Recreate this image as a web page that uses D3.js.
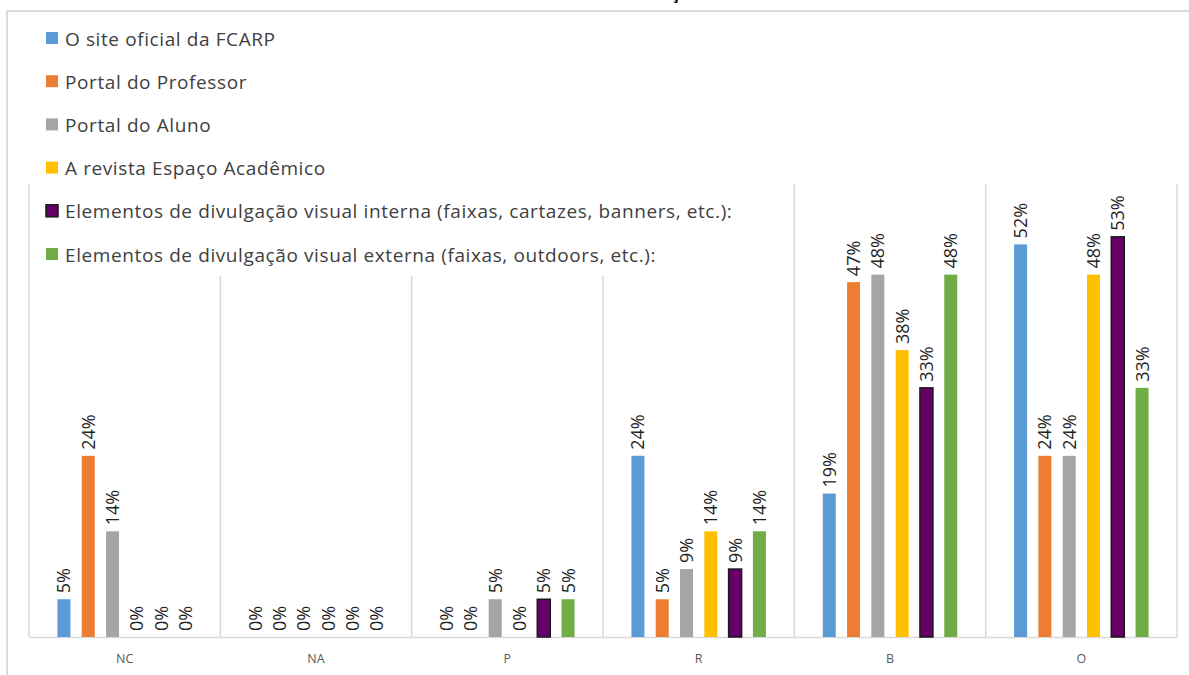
<!DOCTYPE html>
<html><head><meta charset="utf-8">
<script src="https://cdn.jsdelivr.net/npm/d3@7"></script>
<style>body{margin:0;background:#fff;}svg{display:block;font-family:"Open Sans",sans-serif;}</style>
</head><body>
<svg id="c" width="1189" height="675"></svg>
<script>
const categories = ["NC","NA","P","R","B","O"];
const seriesNames = [
  "O site oficial da FCARP",
  "Portal do Professor",
  "Portal do Aluno",
  "A revista Espaço Acadêmico",
  "Elementos de divulgação visual interna (faixas, cartazes, banners, etc.):",
  "Elementos de divulgação visual externa (faixas, outdoors, etc.):"
];
const siteOficial   = [5, 0, 0, 24, 19, 52];
const portalProf    = [24, 0, 0, 5, 47, 24];
const portalAluno   = [14, 0, 5, 9, 48, 24];
const revista       = [0, 0, 0, 14, 38, 48];
const visualInterna = [0, 0, 5, 9, 33, 53];
const visualExterna = [0, 0, 5, 14, 48, 33];
const seriesValues = [siteOficial, portalProf, portalAluno, revista, visualInterna, visualExterna];
const colors = ["#5B9BD5","#ED7D31","#A5A5A5","#FFC000","#660066","#70AD47"];
const titleText = "Comunicação";

const svg = d3.select("#c");
const plot = {left:29, right:1177, top:184, bottom:637};

// outer chart frame (partially visible)
svg.append("line").attr("x1",7).attr("x2",7).attr("y1",11).attr("y2",675).attr("stroke","#d0d0d0").attr("stroke-width",1.5);
svg.append("line").attr("x1",7).attr("x2",1189).attr("y1",11).attr("y2",11).attr("stroke","#d0d0d0").attr("stroke-width",1.5);

// title (mostly cut off, as in the original)
svg.append("text").attr("x",699).attr("y",-1).attr("text-anchor","end")
  .attr("font-weight","bold").attr("font-size",16).attr("fill","#000").text(titleText);

const x0 = d3.scaleBand().domain(categories).range([plot.left, plot.right]).padding(0);
const x1 = d3.scaleBand().domain(d3.range(6)).range([0, x0.bandwidth()]).paddingInner(0.465).paddingOuter(1.17);
const y = d3.scaleLinear().domain([0, 60]).range([plot.bottom, plot.top]);

// vertical separators
const bounds = categories.map(c => x0(c)).concat([plot.right]);
svg.append("g").selectAll("line").data(bounds).join("line")
  .attr("x1",d=>d).attr("x2",d=>d).attr("y1",plot.top).attr("y2",plot.bottom)
  .attr("stroke","#d9d9d9").attr("stroke-width",1.5);

// baseline axis
const xAxis = d3.axisBottom(x0).tickSize(0).tickPadding(17);
const ax = svg.append("g").attr("transform",`translate(0,${plot.bottom})`).call(xAxis);
ax.select(".domain").attr("stroke","#d9d9d9").attr("stroke-width",1.5);
ax.selectAll("text").attr("font-size",12.5).attr("fill","#595959").attr("font-family","Open Sans, sans-serif");

// bars
const data = [];
categories.forEach((c,ci)=>seriesValues.forEach((s,si)=>data.push({c, si, v:s[ci]})));
const g = svg.append("g");
g.selectAll("rect").data(data).join("rect")
  .attr("x",d=>x0(d.c)+x1(d.si)).attr("width",x1.bandwidth())
  .attr("y",d=>y(d.v)).attr("height",d=>plot.bottom-y(d.v))
  .attr("fill",d=>colors[d.si])
  .attr("stroke",d=>d.si===4 && d.v>0 ? "#1a1a1a":"none").attr("stroke-width",1.5);

// labels
g.selectAll("text").data(data).join("text")
  .attr("transform",d=>`translate(${x0(d.c)+x1(d.si)+x1.bandwidth()/2+6.5},${y(d.v)-6}) rotate(-90)`)
  .attr("font-size",18).attr("fill","#1f1f1f").attr("text-anchor","start")
  .text(d=>d.v+"%");

// legend (white box over plot)
const leg = svg.append("g");
leg.append("rect").attr("x",30).attr("y",18).attr("width",750).attr("height",258).attr("fill","#fff");
const items = leg.selectAll("g.it").data(seriesNames).join("g").attr("class","it")
  .attr("transform",(d,i)=>`translate(46,${32+i*43.2})`);
items.append("rect").attr("width",12).attr("height",12)
  .attr("fill",(d,i)=>colors[i]).attr("stroke",(d,i)=>i===4?"#1a1a1a":"none").attr("stroke-width",1.5);
items.append("text").attr("x",19).attr("y",13.5).attr("font-size",19).attr("letter-spacing",0.6)
  .attr("fill","#404040").text(d=>d);
</script>
</body></html>
